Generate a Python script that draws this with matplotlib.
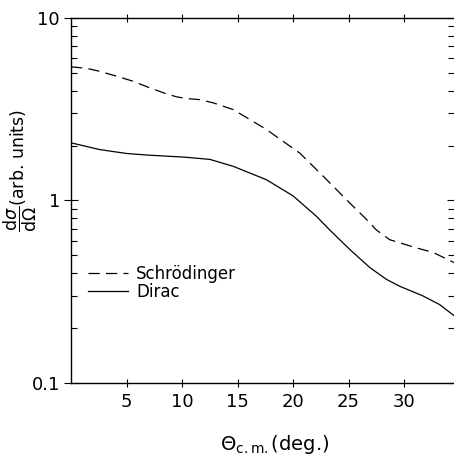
import numpy as np
import matplotlib.pyplot as plt
from matplotlib.ticker import FixedLocator, NullFormatter, LogLocator

# Schroedinger (dashed) curve
schr_deg = [0.0, 1.4, 2.6, 4.1, 5.6, 7.1, 8.6, 9.5, 10.4, 11.6, 12.8, 14.6, 16.1,
            17.6, 19.1, 20.6, 22.1, 23.6, 25.1, 26.6, 27.5, 28.7, 31.1, 32.6, 34.5]
schr_val = [5.4, 5.3, 5.1, 4.8, 4.5, 4.14, 3.84, 3.70, 3.62, 3.57, 3.43, 3.15, 2.78,
            2.45, 2.11, 1.82, 1.48, 1.20, 0.97, 0.79, 0.69, 0.61, 0.55, 0.52, 0.457]

# Dirac (solid) curve
dirac_deg = [0.0, 2.6, 5.0, 7.1, 10.1, 12.5, 14.6, 17.6, 20.0, 22.1, 23.3, 25.1,
             26.9, 28.4, 29.6, 31.7, 33.2, 34.5]
dirac_val = [2.07, 1.90, 1.81, 1.77, 1.73, 1.68, 1.54, 1.30, 1.06, 0.82, 0.69, 0.54,
             0.43, 0.37, 0.339, 0.30, 0.269, 0.234]

xticks = [5, 10, 15, 20, 25, 30]
yticks = [0.1, 1, 10]
ytick_labels = ["0.1", "1", "10"]

fig = plt.figure(figsize=(4.54, 4.58), dpi=100)
ax = fig.add_axes([0.1564, 0.1638, 0.8436, 0.7969])

ax.plot(schr_deg, schr_val, color="black", lw=0.9, dashes=(9, 5), label="Schrödinger")
ax.plot(dirac_deg, dirac_val, color="black", lw=0.9, label="Dirac")

ax.set_yscale("log")
ax.set_xlim(0, 34.5)
ax.set_ylim(0.1, 10)

ax.xaxis.set_major_locator(FixedLocator(xticks))
ax.set_xticklabels([str(t) for t in xticks])
ax.yaxis.set_major_locator(FixedLocator(yticks))
ax.set_yticklabels(ytick_labels)
ax.yaxis.set_minor_locator(LogLocator(base=10, subs=np.arange(2, 10)))
ax.yaxis.set_minor_formatter(NullFormatter())

ax.spines["right"].set_visible(False)
for s in ["left", "top", "bottom"]:
    ax.spines[s].set_linewidth(1.0)

ax.tick_params(axis="x", which="major", direction="inout", length=6, width=0.8,
               top=True, labelsize=13, pad=4)
ax.tick_params(axis="y", which="major", direction="inout", length=10, width=0.8,
               right=True, labelsize=13, pad=3)
ax.tick_params(axis="y", which="minor", direction="in", length=4, width=0.8, right=True)

fig.text(275 / 454, 1 - 445 / 458, r"$\Theta_{\rm c.m.}$(deg.)", fontsize=14,
         ha="center", va="center")
fig.text(20 / 454, 1 - 170 / 458, r"$\dfrac{\mathrm{d}\sigma}{\mathrm{d}\Omega}$(arb. units)",
         fontsize=12.5, ha="center", va="center", rotation=90)

ax.legend(loc="center left", bbox_to_anchor=(0.044, 0.274), frameon=False,
          fontsize=12, handlelength=2.4, handletextpad=0.5, labelspacing=0.0,
          borderpad=0, borderaxespad=0)

fig.savefig("out.png", dpi=100)
